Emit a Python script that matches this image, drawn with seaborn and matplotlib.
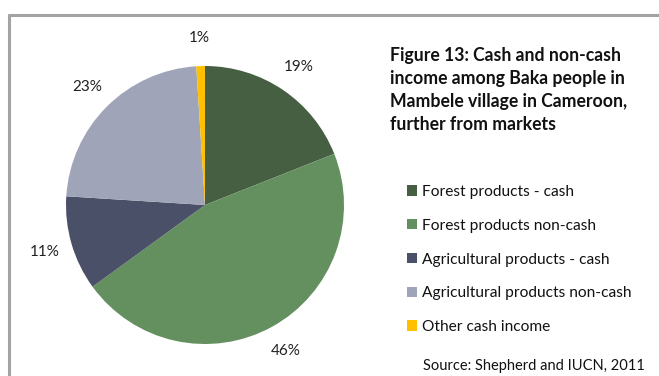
import matplotlib
matplotlib.use("Agg")
import matplotlib.pyplot as plt
from matplotlib.lines import Line2D
from matplotlib.patches import Patch
import seaborn as sns

# Income shares (%)
categories = [
    "Forest products - cash",
    "Forest products non-cash",
    "Agricultural products - cash",
    "Agricultural products non-cash",
    "Other cash income",
]
shares = [19, 46, 11, 23, 1]
slice_colors = ["#465f43", "#648f5e", "#4a5068", "#a0a4b8", "#ffc000"]

title_text = ("Figure 13: Cash and non-cash\nincome among Baka people in\n"
              "Mambele village in Cameroon,\nfurther from markets")
source_text = "Source: Shepherd and IUCN, 2011"

sns.set_theme(style="white")
plt.rcParams["font.family"] = ["Lato", "DejaVu Sans"]

W, H = 659, 376
fig = plt.figure(figsize=(W / 100, H / 100), dpi=100)
fig.patch.set_facecolor("white")

palette = sns.color_palette(slice_colors)

# Pie: centre (205, 205) px, radius 139 px
cx, cy, r = 205, 205, 139
ax = fig.add_axes([(cx - r) / W, (H - cy - r) / H, 2 * r / W, 2 * r / H])
wedges, _, autotexts = ax.pie(
    shares,
    colors=palette,
    startangle=90,
    counterclock=False,
    autopct=lambda p: f"{p:.0f}%",
    pctdistance=1.2,
    wedgeprops=dict(linewidth=0),
    textprops=dict(fontsize=11, color="#222222"),
)
ax.set_xlim(-1, 1)
ax.set_ylim(-1, 1)
ax.set_aspect("auto")
ax.axis("off")

# Chart frame (top and left edges visible)
fig.add_artist(Line2D([8.5 / W, 1.0], [1 - 14.5 / H, 1 - 14.5 / H],
                      color="#a3a3a3", lw=2.2, transform=fig.transFigure))
fig.add_artist(Line2D([8.5 / W, 8.5 / W], [0.0, 1 - 14.5 / H],
                      color="#a3a3a3", lw=2.2, transform=fig.transFigure))

# Title
fig.text(390 / W, 1 - 47 / H, title_text, ha="left", va="top",
         fontsize=12.7, fontweight="bold", color="#111111", linespacing=1.44)

# Legend
handles = [Patch(facecolor=c, edgecolor="none") for c in palette]
fig.legend(handles, categories, loc="upper left",
           bbox_to_anchor=(407 / W, 1 - 185 / H), frameon=False,
           fontsize=11.2, handlelength=0.65, handleheight=0.65,
           handletextpad=0.3, labelspacing=1.27, borderpad=0, borderaxespad=0,
           labelcolor="#111111")

# Source note
fig.text(645 / W, 1 - 366 / H, source_text, ha="right", va="center",
         fontsize=10.5, color="#111111")

fig.savefig("out.png", dpi=100, facecolor="white")
